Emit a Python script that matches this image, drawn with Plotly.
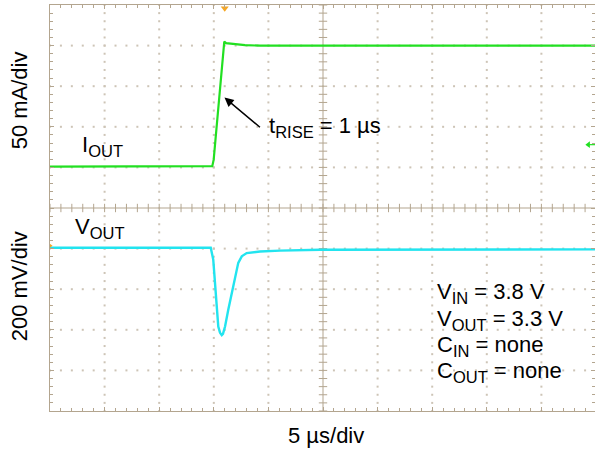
import numpy as np
import plotly.graph_objects as go

# Horizontal scale: 5 us per division, 10 divisions across the screen
time_span_us = 50.0
us_per_div = 5.0
# Vertical scale in screen divisions (10 divisions, centre = 0)
div_half = 5.0

# Channel 1: output current (50 mA/div), screen divisions
iout_t_us = [0.0, 14.86, 14.99, 15.96, 16.12, 16.76, 17.86, 19.23, 50.0]
iout_div = [1.02, 1.03, 1.19, 4.10, 4.06, 4.04, 4.01, 4.00, 4.00]

# Channel 2: output voltage (200 mV/div), screen divisions
vout_t_us = [0.0, 14.72, 14.95, 15.11, 15.27, 15.41, 15.57, 15.73, 15.84, 16.03,
             16.33, 16.64, 16.94, 17.24, 17.56, 18.01, 19.23, 21.06, 24.73, 49.91]
vout_div = [-0.98, -0.98, -1.27, -1.93, -2.50, -2.92, -3.07, -3.13, -3.10, -2.92,
            -2.50, -2.09, -1.68, -1.35, -1.19, -1.11, -1.07, -1.05, -1.03, -1.02]

trigger_t_us = 16.0        # trigger position marker (top edge)
trig_level_div = 1.56      # channel 1 trigger level marker (right edge)
ch2_ground_div = -0.93     # channel 2 reference marker (left edge)

FONT = "Liberation Sans, Arial, Helvetica, sans-serif"
TAN = "#b3a58f"
DOT = "#cdc4b6"
GREEN = "#22e022"
CYAN = "#22e4ef"
ORANGE = "#f5a623"
FS = 22
SUB_FS = 16.5

fig = go.Figure()

# Dotted graticule: one dot per minor step along every major line
minor_x = np.arange(0, time_span_us + 0.01, 1.0)
minor_y = np.round(np.arange(-div_half, div_half + 0.01, 0.2), 3)
gx, gy = [], []
for xv in np.arange(us_per_div, time_span_us, us_per_div):
    if abs(xv - time_span_us / 2) < 1e-6:
        continue
    gx += [xv] * len(minor_y)
    gy += list(minor_y)
for yv in np.arange(-div_half + 1, div_half, 1.0):
    if abs(yv) < 1e-6:
        continue
    gx += list(minor_x)
    gy += [yv] * len(minor_x)
fig.add_trace(go.Scatter(x=gx, y=gy, mode="markers", hoverinfo="skip",
                         marker=dict(symbol="square", size=2, color=DOT,
                                     line=dict(width=0))))

# Centre cross-hair ticks
fig.add_trace(go.Scatter(x=minor_x, y=[0] * len(minor_x), mode="markers",
                         hoverinfo="skip", cliponaxis=False,
                         marker=dict(symbol="line-ns", size=6,
                                     line=dict(width=1, color=TAN))))
fig.add_trace(go.Scatter(x=[time_span_us / 2] * len(minor_y), y=minor_y,
                         mode="markers", hoverinfo="skip", cliponaxis=False,
                         marker=dict(symbol="line-ew", size=6,
                                     line=dict(width=1, color=TAN))))

# Waveforms
fig.add_trace(go.Scatter(x=iout_t_us, y=iout_div, mode="lines",
                         line=dict(color=GREEN, width=2.2), hoverinfo="skip"))
fig.add_trace(go.Scatter(x=vout_t_us, y=vout_div, mode="lines",
                         line=dict(color=CYAN, width=2.4), hoverinfo="skip"))

# Scope markers: trigger position, trigger level, channel reference
fig.add_trace(go.Scatter(x=[trigger_t_us], y=[div_half - 0.08], mode="markers",
                         cliponaxis=False, hoverinfo="skip",
                         marker=dict(symbol="triangle-down", size=7, color=ORANGE,
                                     line=dict(width=0))))
fig.add_trace(go.Scatter(x=[49.3, 49.91], y=[trig_level_div, trig_level_div],
                         mode="lines", cliponaxis=False, hoverinfo="skip",
                         line=dict(color=GREEN, width=1.2)))
fig.add_trace(go.Scatter(x=[49.3], y=[trig_level_div], mode="markers",
                         cliponaxis=False, hoverinfo="skip",
                         marker=dict(symbol="triangle-left", size=6, color=GREEN,
                                     line=dict(width=0))))
fig.add_trace(go.Scatter(x=[0.05], y=[ch2_ground_div], mode="markers",
                         cliponaxis=False, hoverinfo="skip",
                         marker=dict(symbol="triangle-right", size=4, color=ORANGE,
                                     line=dict(width=0))))

# Centre axes
fig.add_shape(type="line", x0=time_span_us / 2, x1=time_span_us / 2,
              y0=-div_half, y1=div_half, line=dict(color=TAN, width=1), layer="below")
fig.add_shape(type="line", x0=0, x1=time_span_us, y0=0, y1=0,
              line=dict(color=TAN, width=1), layer="below")

txt = dict(family=FONT, size=FS, color="black")


def sub(s):
    return f"<sub><span style='font-size:{SUB_FS}px'>{s}</span></sub>"


def label(text, x, y):
    fig.add_annotation(text=text, x=x, y=y, showarrow=False, font=txt,
                       xanchor="left", yanchor="middle")


label("I" + sub("OUT"), 2.75, 1.52)
label("V" + sub("OUT"), 2.15, -0.5)
label("t" + sub("RISE") + " = 1 µs", 19.85, 2.0)
label("V" + sub("IN") + " = 3.8 V", 35.25, -2.1)
label("V" + sub("OUT") + " = 3.3 V", 35.25, -2.75)
label("C" + sub("IN") + " = none", 35.25, -3.41)
label("C" + sub("OUT") + " = none", 35.25, -4.04)

# Rise-time pointer
fig.add_annotation(x=15.98, y=2.72, ax=37, ay=31, text="", showarrow=True,
                   arrowhead=2, arrowsize=1.3, arrowwidth=1.4, arrowcolor="black")

# Scale legends
fig.add_annotation(text="50 mA/div", xref="paper", yref="paper", x=-0.057, y=0.765,
                   textangle=-90, showarrow=False, font=txt,
                   xanchor="center", yanchor="middle")
fig.add_annotation(text="200 mV/div", xref="paper", yref="paper", x=-0.057, y=0.307,
                   textangle=-90, showarrow=False, font=txt,
                   xanchor="center", yanchor="middle")
fig.add_annotation(text="5 µs/div", xref="paper", yref="paper", x=0.506, y=-0.06,
                   showarrow=False, font=txt, xanchor="center", yanchor="middle")

axis_common = dict(showgrid=False, zeroline=False, showticklabels=False,
                   showline=True, linecolor=TAN, linewidth=1,
                   ticks="inside", tickcolor=TAN, tickwidth=1, ticklen=4,
                   mirror="ticks", fixedrange=True)

fig.update_xaxes(range=[0, time_span_us * 545 / 546], dtick=us_per_div, tick0=0,
                 minor=dict(dtick=1, ticks="inside", ticklen=3, tickcolor=TAN,
                            showgrid=False),
                 **axis_common)
fig.update_yaxes(range=[-div_half, div_half], dtick=1, tick0=0,
                 minor=dict(dtick=0.2, ticks="inside", ticklen=3, tickcolor=TAN,
                            showgrid=False),
                 **axis_common)

fig.update_layout(width=595, height=449,
                  margin=dict(l=50, r=0, t=5, b=38),
                  paper_bgcolor="white", plot_bgcolor="white",
                  showlegend=False)

fig.write_html("out.html")
